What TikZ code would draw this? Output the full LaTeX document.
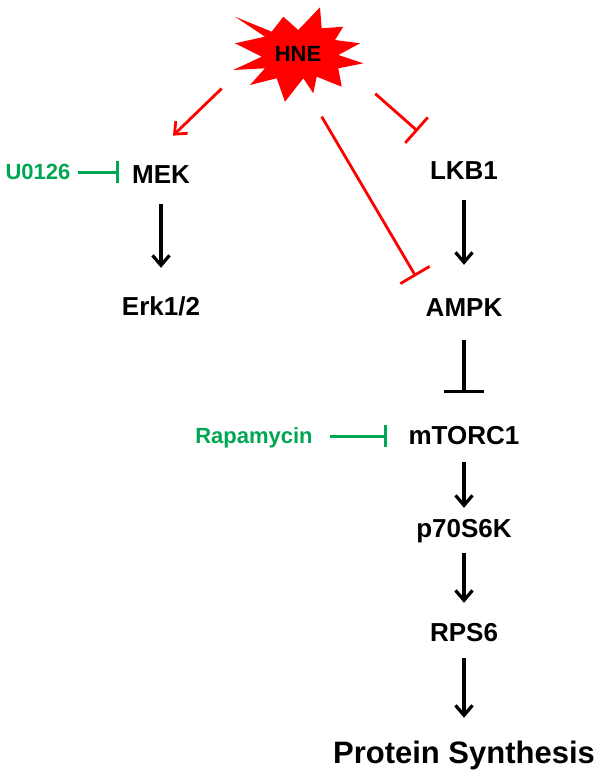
\documentclass[tikz,border=0pt]{standalone}
\usepackage{fontspec}
\setmainfont{Liberation Sans}
\usetikzlibrary{arrows.meta, positioning}
\definecolor{hnered}{HTML}{FF0000}
\definecolor{druggreen}{HTML}{00A651}

\begin{document}
\begin{tikzpicture}[x=1pt, y=-1pt,
        prot/.style={inner sep=0pt, text height=18.6pt, text depth=0pt, font=\fontsize{26}{30}\selectfont\bfseries},
        big/.style={inner sep=0pt, text height=22.3pt, text depth=0pt, font=\fontsize{31}{36}\selectfont\bfseries},
        drug/.style={inner sep=0pt, text height=15.8pt, text depth=0pt, font=\fontsize{22}{26}\selectfont\bfseries, text=druggreen},
        act/.style={-{Straight Barb[length=10pt, width=17pt]}, line width=3.2pt},
        inh/.style={-{Bar[width=40pt]}, line width=3.2pt},
        redact/.style={act, line width=2.8pt, hnered},
        redinh/.style={-{Bar[width=34pt]}, line width=2.8pt, hnered},
        druginh/.style={-{Bar[width=22pt]}, line width=3pt, druggreen}
    ]
        \useasboundingbox (0,0) rectangle (604,776);

        % HNE burst
        \fill[hnered] (235,16.7) -- (271.7,31.7) -- (283.3,16.7) -- (298.3,30) -- (320,7.3)
            -- (321.7,28.3) -- (343.3,26.7) -- (335,40) -- (360,43.3) -- (338.3,55)
            -- (363.3,63.3) -- (338.3,68.3) -- (341.7,86.7) -- (316.7,76.7) -- (313.3,93.3)
            -- (303.3,78.3) -- (285,101.7) -- (276.7,78.3) -- (250,85) -- (265,68.3)
            -- (233.3,70) -- (261.7,56.7) -- (235,43.3) -- (265,36.7) -- cycle;
        \node (hne) [drug, text=black, minimum width=130pt, minimum height=93pt] at (298,54) {HNE};

        \node (mek) [prot] at (161,174) {MEK};
        \node (erk) [prot] at (161,306) {Erk1/2};
        \node (lkb1) [prot] at (464,170) {LKB1};
        \node (ampk) [prot] at (464,307.5) {AMPK};
        \node (mtor) [prot] at (464,435) {mTORC1};
        \node (p70) [prot] at (464,528.5) {p70S6K};
        \node (rps6) [prot] at (464,632) {RPS6};
        \node (prot) [big] at (464,752.5) {Protein Synthesis};

        \node (u0126) [drug] at (38,172) {U0126};
        \node (rapa) [drug] at (254,436) {Rapamycin};

        \draw [redact, shorten <=15.5pt, shorten >=41.5pt] (hne.200) -- (mek.152);
        \draw [redinh, shorten <=18.5pt, shorten >=25.3pt] (hne.287.5) -- (ampk.165);
        \draw [redinh, shorten <=16.1pt, shorten >=44.5pt] (hne.336.1) -- (lkb1.144);

        \draw [druginh, shorten <=7.6pt, shorten >=12.6pt] (u0126) -- (u0126 -| mek.west);
        \draw [druginh, shorten <=17.3pt, shorten >=21.4pt] (rapa) -- (rapa -| mtor.west);

        \draw [act, shorten <=20pt, shorten >=28.7pt] (mek) -- (erk);
        \draw [act, shorten <=20.7pt, shorten >=33.2pt] (lkb1) -- (ampk);
        \draw [inh, shorten <=23.2pt, shorten >=32.7pt] (ampk) -- (mtor);
        \draw [act, shorten <=17.7pt, shorten >=11.2pt] (mtor) -- (p70);
        \draw [act, shorten <=15.2pt, shorten >=19.7pt] (p70) -- (rps6);
        \draw [act, shorten <=16.7pt, shorten >=23.4pt] (rps6) -- (prot);
    \end{tikzpicture}
\end{document}
